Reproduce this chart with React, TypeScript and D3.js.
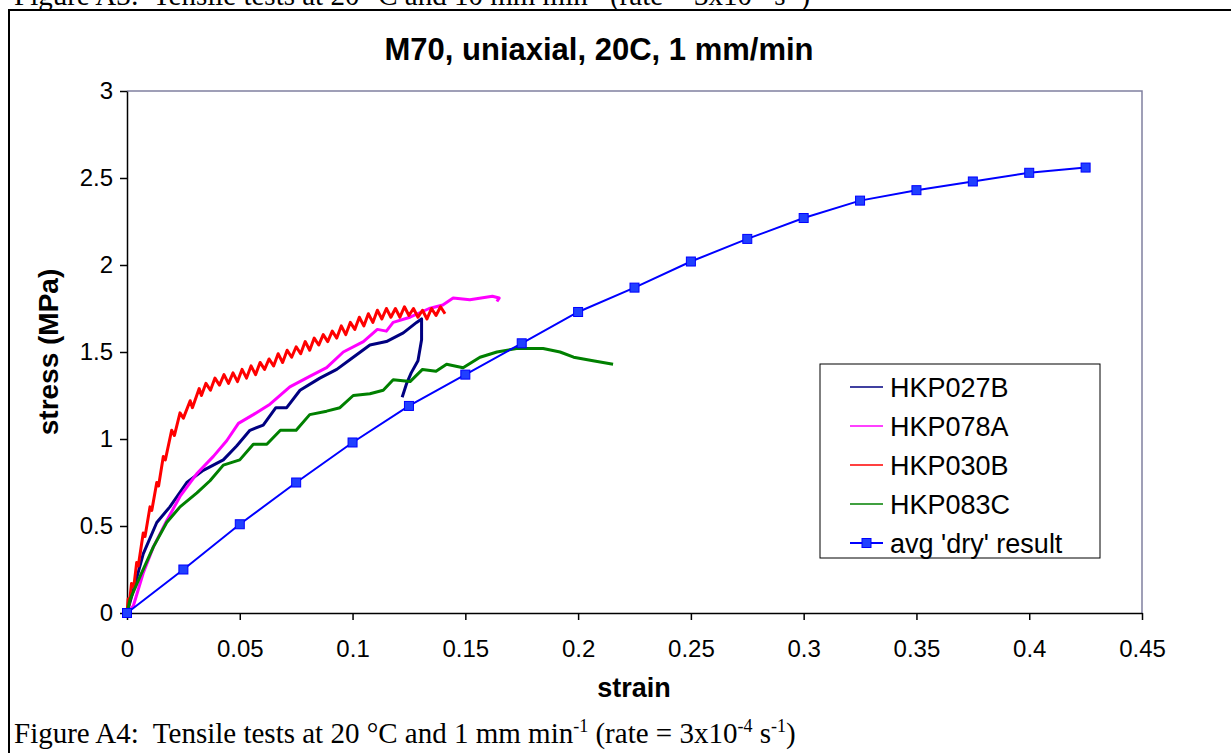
import { axisBottom, axisLeft, line, scaleLinear, select } from 'd3';
import { useEffect, useRef } from 'react';

// tensile test curves, [strain, stress MPa]
const hkp027b = [
  [0, 0], [0.0028, 0.13], [0.0072, 0.34], [0.0132, 0.52], [0.019, 0.61], [0.0265, 0.75],
  [0.0338, 0.82], [0.0427, 0.88], [0.0486, 0.96], [0.0545, 1.05], [0.0604, 1.08], [0.066, 1.18],
  [0.0708, 1.18], [0.0767, 1.28], [0.0855, 1.35], [0.093, 1.4], [0.1003, 1.47], [0.1077, 1.54],
  [0.115, 1.56], [0.1225, 1.61], [0.1284, 1.67], [0.1306, 1.69], [0.1306, 1.57], [0.129, 1.45],
  [0.126, 1.38], [0.124, 1.32], [0.122, 1.24],
];

const hkp078a = [
  [0, 0], [0.0028, 0.04], [0.0072, 0.23], [0.0117, 0.38], [0.0176, 0.53], [0.0235, 0.67],
  [0.0309, 0.8], [0.0383, 0.9], [0.0442, 0.99], [0.0494, 1.09], [0.056, 1.14], [0.0634, 1.2],
  [0.0722, 1.3], [0.081, 1.36], [0.0885, 1.41], [0.0959, 1.5], [0.1048, 1.56], [0.111, 1.63],
  [0.115, 1.62], [0.118, 1.67], [0.1255, 1.7], [0.134, 1.75], [0.14, 1.77], [0.1446, 1.81],
  [0.152, 1.8], [0.162, 1.82], [0.165, 1.81], [0.164, 1.79],
];

const hkp030b = [
  [0, 0], [0.0005, 0.08], [0.001, 0.05], [0.002, 0.17], [0.003, 0.15], [0.0043, 0.29],
  [0.005, 0.27], [0.0072, 0.46], [0.008, 0.44], [0.0102, 0.61], [0.011, 0.59], [0.0132, 0.75],
  [0.014, 0.73], [0.0161, 0.9], [0.017, 0.88], [0.0198, 1.05], [0.021, 1.02], [0.0235, 1.15],
  [0.025, 1.12], [0.028, 1.22], [0.029, 1.18], [0.032, 1.29], [0.033, 1.25],
  [0.035, 1.32], [0.037, 1.28], [0.039, 1.35], [0.041, 1.31], [0.043, 1.37], [0.045, 1.32],
  [0.047, 1.38], [0.049, 1.33], [0.051, 1.4], [0.053, 1.35], [0.055, 1.42], [0.057, 1.37],
  [0.059, 1.44], [0.061, 1.4], [0.063, 1.46], [0.065, 1.42], [0.067, 1.49], [0.069, 1.44],
  [0.071, 1.51], [0.073, 1.47], [0.075, 1.53], [0.077, 1.49], [0.079, 1.56], [0.081, 1.51],
  [0.083, 1.58], [0.085, 1.54], [0.087, 1.6], [0.089, 1.56], [0.091, 1.62], [0.093, 1.58],
  [0.095, 1.65], [0.097, 1.6], [0.099, 1.67], [0.101, 1.63], [0.103, 1.7], [0.105, 1.65],
  [0.107, 1.72], [0.109, 1.67], [0.111, 1.74], [0.113, 1.69], [0.115, 1.75], [0.117, 1.7],
  [0.119, 1.75], [0.121, 1.7], [0.123, 1.76], [0.125, 1.71], [0.127, 1.75], [0.129, 1.7],
  [0.131, 1.74], [0.133, 1.69], [0.135, 1.75], [0.137, 1.71], [0.139, 1.76], [0.141, 1.72],
];

const hkp083c = [
  [0, 0], [0.0013, 0.075], [0.0058, 0.21], [0.0117, 0.38], [0.0176, 0.52], [0.0235, 0.61],
  [0.031, 0.69], [0.0368, 0.76], [0.0427, 0.85], [0.05, 0.88], [0.056, 0.97], [0.062, 0.97],
  [0.068, 1.05], [0.075, 1.05], [0.081, 1.14], [0.0885, 1.16], [0.0944, 1.18], [0.1003, 1.25],
  [0.1077, 1.26], [0.1136, 1.28], [0.118, 1.34], [0.1255, 1.33], [0.131, 1.4], [0.137, 1.39],
  [0.1417, 1.43], [0.149, 1.41], [0.1565, 1.47], [0.164, 1.5], [0.1727, 1.52], [0.1845, 1.52],
  [0.192, 1.5], [0.198, 1.47], [0.2066, 1.45], [0.2155, 1.43],
];

// average 'dry' result, one marker every 0.025 strain
const avgStrain = [
  0, 0.025, 0.05, 0.075, 0.1, 0.125, 0.15, 0.175, 0.2, 0.225, 0.25, 0.275, 0.3, 0.325, 0.35,
  0.375, 0.4, 0.425,
];
const avgStress = [
  0, 0.25, 0.51, 0.75, 0.98, 1.19, 1.37, 1.55, 1.73, 1.87, 2.02, 2.15, 2.27, 2.37, 2.43, 2.48,
  2.53, 2.56,
];

const strainTicks = [0, 0.05, 0.1, 0.15, 0.2, 0.25, 0.3, 0.35, 0.4, 0.45];
const stressTicks = [0, 0.5, 1, 1.5, 2, 2.5, 3];

const series = [
  { name: 'HKP027B', color: '#000080', data: hkp027b },
  { name: 'HKP078A', color: '#ff00ff', data: hkp078a },
  { name: 'HKP030B', color: '#ff0000', data: hkp030b },
  { name: 'HKP083C', color: '#008000', data: hkp083c },
];

const FONT = 'Arial, "Liberation Sans", sans-serif';
const SERIF = '"Times New Roman", "Liberation Serif", serif';

// caption with superscripts: parts alternate normal / superscript
const addCaption = (svg, yPos, parts) => {
  const t = svg.append('text').attr('x', 14).attr('y', yPos)
    .attr('font-family', SERIF).attr('font-size', 29).style('white-space', 'pre');
  parts.forEach((p, i) => {
    const sup = i % 2 === 1;
    t.append('tspan').attr('dy', i === 0 ? 0 : sup ? -11 : 11)
      .attr('font-size', sup ? 18 : 29).text(p);
  });
};

const App = () => {
  const svgRef = useRef(null);

  useEffect(() => {
    const svg = select(svgRef.current);
    svg.selectAll('*').remove();

    const x = scaleLinear().domain([0, 0.45]).range([127, 1142]);
    const y = scaleLinear().domain([0, 3]).range([613, 91]);

    // previous figure caption, cut off by the top of the page
    addCaption(svg, 5, [
      'Figure A3:  Tensile tests at 20 °C and 10 mm min', '-1', ' (rate = 3x10', '-3', ' s', '-1', ')',
    ]);
    svg.append('rect').attr('x', 0).attr('y', 11).attr('width', 1231).attr('height', 20).attr('fill', '#fff');

    // page frame
    svg.append('line').attr('x1', 8).attr('x2', 1231).attr('y1', 10).attr('y2', 10)
      .attr('stroke', '#000').attr('stroke-width', 2);
    svg.append('line').attr('x1', 9).attr('x2', 9).attr('y1', 9).attr('y2', 753)
      .attr('stroke', '#000').attr('stroke-width', 2);

    // plot area border (top and right)
    svg.append('path')
      .attr('d', `M${x(0)},${y(3)}H${x(0.45)}V${y(0)}`)
      .attr('fill', 'none').attr('stroke', '#8080a0').attr('stroke-width', 1.5);

    const yAxis = svg.append('g').attr('transform', `translate(${x(0)},0)`)
      .call(axisLeft(y).tickValues(stressTicks).tickSize(7).tickSizeOuter(0).tickPadding(7)
        .tickFormat((d) => String(d)));
    const xAxis = svg.append('g').attr('transform', `translate(0,${y(0)})`)
      .call(axisBottom(x).tickValues(strainTicks).tickSize(7).tickSizeOuter(0).tickPadding(20)
        .tickFormat((d) => String(d)));
    [xAxis, yAxis].forEach((g) => {
      g.selectAll('path, line').attr('stroke', '#000').attr('stroke-width', 1.5);
      g.selectAll('text').attr('font-family', FONT).attr('font-size', 24).attr('fill', '#000');
    });

    const path = line().x((d) => x(d[0])).y((d) => y(d[1]));
    series.forEach((s) => {
      svg.append('path').datum(s.data).attr('d', path)
        .attr('fill', 'none').attr('stroke', s.color).attr('stroke-width', 3)
        .attr('stroke-linejoin', 'round');
    });

    const avg = avgStrain.map((d, i) => [d, avgStress[i]]);
    svg.append('path').datum(avg).attr('d', path)
      .attr('fill', 'none').attr('stroke', '#0000ff').attr('stroke-width', 2);
    svg.append('g').selectAll('rect').data(avg).enter().append('rect')
      .attr('x', (d) => x(d[0]) - 4.5).attr('y', (d) => y(d[1]) - 4.5)
      .attr('width', 9).attr('height', 9)
      .attr('fill', '#2040ff').attr('stroke', '#0000ff').attr('stroke-width', 1);

    // titles
    svg.append('text').attr('x', 599).attr('y', 60).attr('text-anchor', 'middle')
      .attr('font-family', FONT).attr('font-weight', 'bold').attr('font-size', 31)
      .text('M70, uniaxial, 20C, 1 mm/min');
    svg.append('text').attr('x', 634).attr('y', 697).attr('text-anchor', 'middle')
      .attr('font-family', FONT).attr('font-weight', 'bold').attr('font-size', 27)
      .text('strain');
    svg.append('text').attr('transform', 'translate(58,352) rotate(-90)')
      .attr('text-anchor', 'middle')
      .attr('font-family', FONT).attr('font-weight', 'bold').attr('font-size', 28)
      .text('stress (MPa)');

    // legend
    const legend = svg.append('g');
    legend.append('rect').attr('x', 820).attr('y', 364).attr('width', 280).attr('height', 194)
      .attr('fill', '#fff').attr('stroke', '#000').attr('stroke-width', 1);
    const entries = [...series.map((s) => ({ name: s.name, color: s.color, marker: false })),
      { name: "avg 'dry' result", color: '#0000ff', marker: true }];
    entries.forEach((e, i) => {
      const cy = 387 + i * 39;
      legend.append('line').attr('x1', 850).attr('x2', 883).attr('y1', cy).attr('y2', cy)
        .attr('stroke', e.color).attr('stroke-width', e.marker ? 2 : 1.5);
      if (e.marker) {
        legend.append('rect').attr('x', 862).attr('y', cy - 4.5).attr('width', 9).attr('height', 9)
          .attr('fill', '#2040ff').attr('stroke', '#0000ff');
      }
      legend.append('text').attr('x', 890).attr('y', cy).attr('dy', '0.36em')
        .attr('font-family', FONT).attr('font-size', 27).text(e.name);
    });

    // caption
    addCaption(svg, 743, [
      'Figure A4:  Tensile tests at 20 °C and 1 mm min', '-1', ' (rate = 3x10', '-4', ' s', '-1', ')',
    ]);
  }, []);

  return (
    <svg
      ref={svgRef}
      width={1231}
      height={753}
      style={{ position: 'absolute', left: 0, top: 0, background: '#fff' }}
    />
  );
};

export default App;
